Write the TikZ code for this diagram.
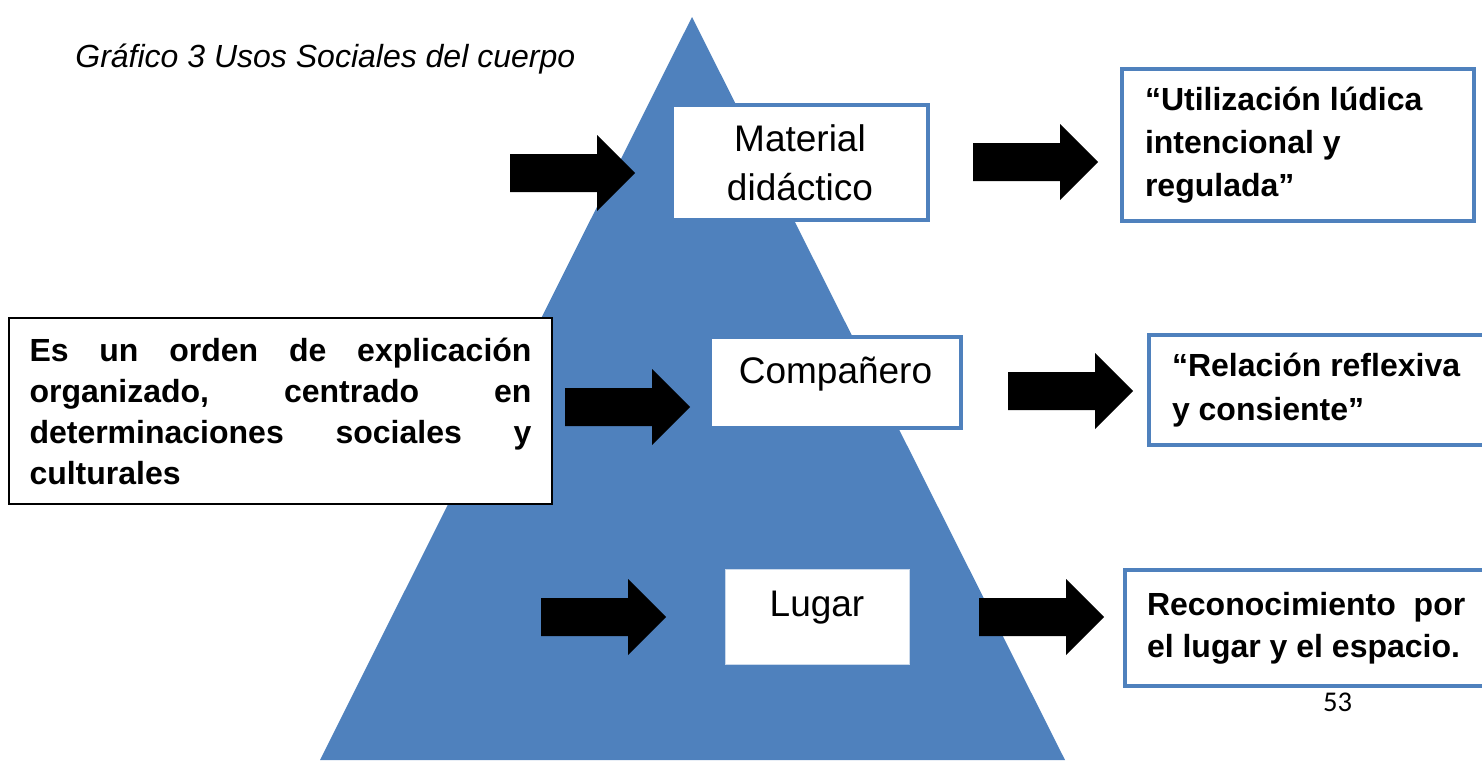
\documentclass[tikz,border=0pt]{standalone}
\usepackage{fontspec}
\setmainfont{Liberation Sans}
\newfontfamily\pagefont{Carlito}
\usetikzlibrary{positioning}
\definecolor{pyrblue}{HTML}{4F81BD}

\begin{document}
\begin{tikzpicture}[x=0.5pt, y=-0.5pt,
	bluebox/.style={draw=pyrblue, line width=2pt, fill=white, inner sep=0pt},
	midtext/.style={font=\fontsize{18.5}{24.3}\selectfont, align=center},
	quotebox/.style={font=\bfseries\fontsize{16}{21.5}\selectfont, align=flush left},
	blockarrow/.pic={\fill[black] (0,-19) -- (87,-19) -- (87,-38) -- (125,0) -- (87,38) -- (87,19) -- (0,19) -- cycle;}]
	\useasboundingbox (0,0) rectangle (1482,760);
	\clip (0,0) rectangle (1482,760);

	\coordinate (apex) at (692,17);
	\fill[pyrblue] (apex) -- (1065,760) -- (320,760) -- cycle;

	\node[anchor=west, inner sep=0pt, font=\itshape\fontsize{16}{19}\selectfont] (title) at (75,59.5) {Gráfico 3 Usos Sociales del cuerpo};

	\node[bluebox, midtext, minimum width=128pt, minimum height=57.5pt] (material) at (800,162.5) {Material\\didáctico};
	\node[bluebox, midtext, minimum width=125.5pt, minimum height=45.5pt, text height=12pt, text depth=11pt] (companero) at (835.5,382.5) {Compañero};
	\node[draw=pyrblue!30, line width=0.5pt, fill=white, midtext, inner sep=0pt, minimum width=92pt, minimum height=47.5pt, text height=12pt, text depth=12pt] (lugar) at (817,616.5) {Lugar};

	\node[bluebox, quotebox, minimum height=76pt, text width=153pt, inner xsep=11.5pt] (ludica) at (1298,145) {“Utilización lúdica\\intencional y\\regulada”};
	\node[bluebox, quotebox, minimum height=55pt, text width=152.5pt, inner xsep=11.5pt, font=\bfseries\fontsize{16}{22}\selectfont] (reflexiva) at (1324.5,390) {“Relación reflexiva\\y consiente”};
	\node[bluebox, quotebox, minimum height=58pt, text width=165.5pt, inner xsep=11pt, font=\bfseries\fontsize{16}{21}\selectfont] (espacio) at (1312.5,628) {Reconocimiento~ por\\el lugar y el espacio.};

	\node[draw=black, line width=0.75pt, fill=white, font=\bfseries\fontsize{16}{20.5}\selectfont, align=flush left, text width=251pt, inner xsep=10.25pt, inner ysep=0pt, minimum height=93pt] (orden) at (280.5,411) {Es\hfill un\hfill orden\hfill de\hfill explicación\\organizado,\hfill centrado\hfill en\\determinaciones\hfill sociales\hfill y\\culturales};

	\pic at (510,173) {blockarrow};
	\pic at (973,162) {blockarrow};
	\pic at (565,407) {blockarrow};
	\pic at (1008,391) {blockarrow};
	\pic at (541,617) {blockarrow};
	\pic at (979,617) {blockarrow};

	\node[inner sep=0pt, font=\pagefont\fontsize{14.3}{17}\selectfont] (pagenum) at (1337.5,702.5) {53};
\end{tikzpicture}
\end{document}
